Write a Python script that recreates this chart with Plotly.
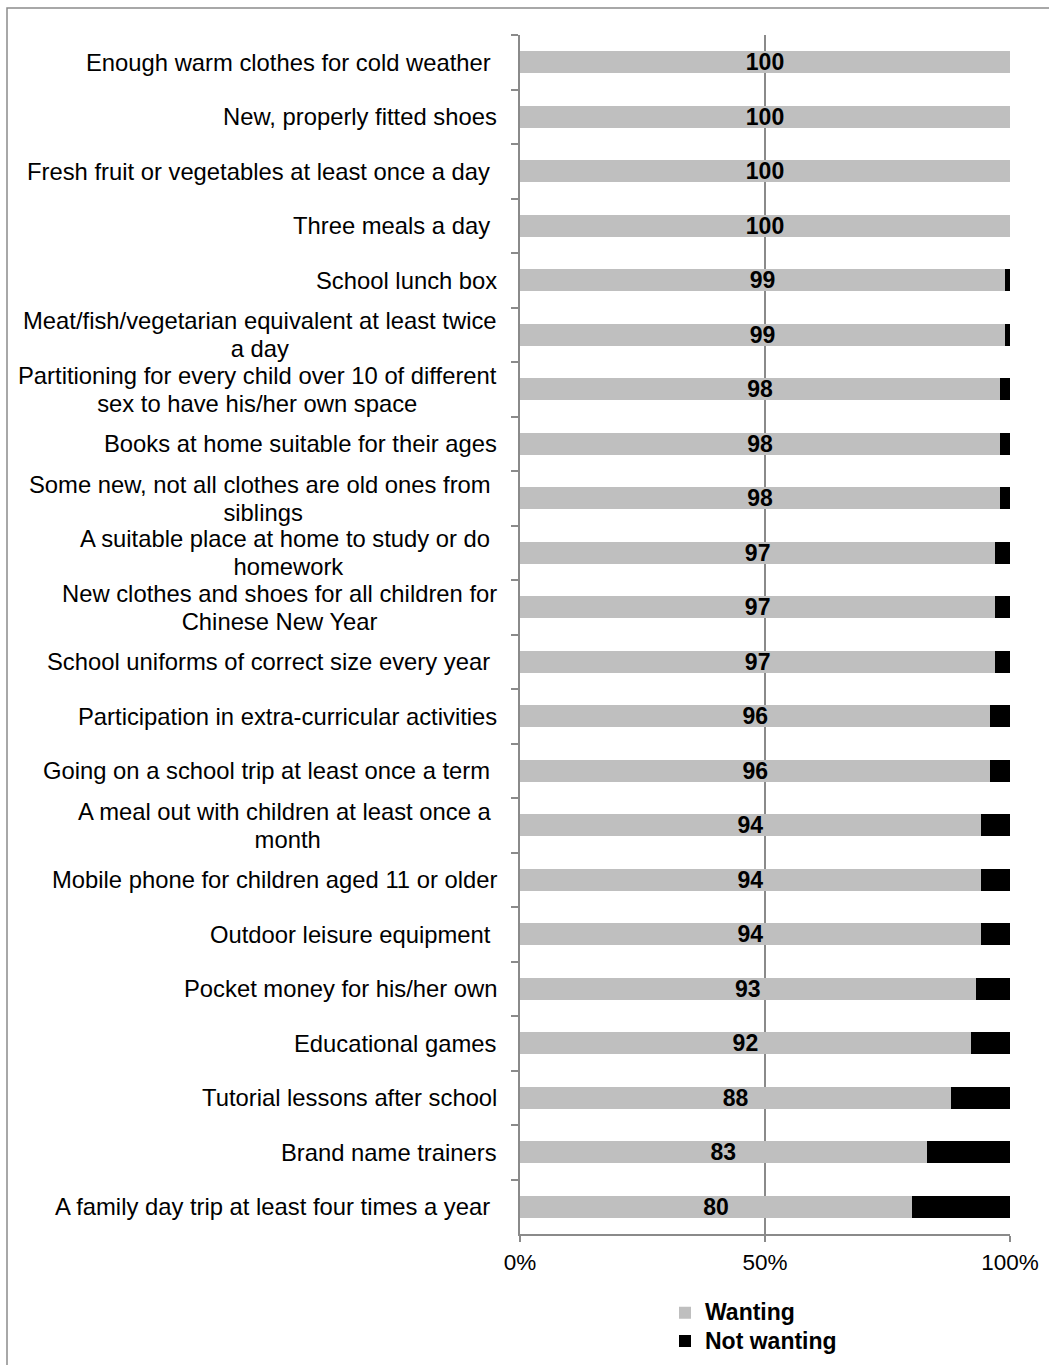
import plotly.graph_objects as go

# Items children should have, with the share of respondents wanting / not wanting each
items = [
    "Enough warm clothes for cold weather\u00a0",
    "New, properly fitted shoes",
    "Fresh fruit or vegetables at least once a day\u00a0",
    "Three meals a day\u00a0",
    "School lunch box",
    "Meat/fish/vegetarian equivalent at least twice<br>a day",
    "Partitioning for every child over 10 of different<br>sex to have his/her own space",
    "Books at home suitable for their ages",
    "Some new, not all clothes are old ones from\u00a0<br>siblings",
    "A suitable place at home to study or do\u00a0<br>homework",
    "New clothes and shoes for all children for<br>Chinese New Year",
    "School uniforms of correct size every year\u00a0",
    "Participation in extra-curricular activities",
    "Going on a school trip at least once a term\u00a0",
    "A meal out with children at least once a\u00a0<br>month",
    "Mobile phone for children aged 11 or older",
    "Outdoor leisure equipment\u00a0",
    "Pocket money for his/her own",
    "Educational games",
    "Tutorial lessons after school",
    "Brand name trainers",
    "A family day trip at least four times a year\u00a0",
]
wanting = [100, 100, 100, 100, 99, 99, 98, 98, 98, 97, 97, 97, 96, 96, 94, 94, 94, 93, 92, 88, 83, 80]
not_wanting = [0, 0, 0, 0, 1, 1, 2, 2, 2, 3, 3, 3, 4, 4, 6, 6, 6, 7, 8, 12, 17, 20]
x_ticks = [0, 50, 100]
x_tick_labels = ["0%", "50%", "100%"]
series_names = ["Wanting", "Not wanting"]

FONT = "Liberation Sans, Arial, sans-serif"
GRID = "#8a8a8a"
cats = [f"c{i}" for i in range(len(items))]


def sized(text, px):
    """Wrap every line in a span so glyphs are larger than the line pitch."""
    return "<br>".join(
        f'<span style="font-size:{px}px">{line}</span>' for line in text.split("<br>")
    )


fig = go.Figure()
fig.add_trace(go.Bar(
    name=sized(series_names[0], 23), y=cats, x=wanting, orientation="h",
    marker=dict(color="#bfbfbf", line=dict(width=0)),
    text=[str(v) for v in wanting], textposition="inside",
    insidetextanchor="middle", constraintext="none", textangle=0,
    textfont=dict(family=FONT, size=23, color="black", weight="bold"),
))
fig.add_trace(go.Bar(
    name=sized(series_names[1], 23), y=cats, x=not_wanting, orientation="h",
    marker=dict(color="black", line=dict(width=0)),
    textposition="none",
))

# Category labels, each line centred within its block and right-aligned to the axis
for c, label in zip(cats, items):
    fig.add_annotation(
        x=0, xref="paper", y=c, yref="y", text=sized(label, 23.8), showarrow=False,
        xanchor="right", yanchor="middle", align="center", xshift=-21,
        font=dict(family=FONT, size=21.5, color="black"),
    )

# Outer chart frame
fig.add_shape(
    type="rect", xref="paper", yref="paper",
    x0=(7 - 520) / 490, x1=1.2, y0=-0.3, y1=1 + (35 - 8) / 1199,
    line=dict(color="#8c8c8c", width=1.5), fillcolor="rgba(0,0,0,0)", layer="below",
)

fig.update_layout(
    width=1049, height=1365,
    margin=dict(l=520, r=39, t=35, b=131, autoexpand=False),
    barmode="stack", bargap=0.6,
    paper_bgcolor="white", plot_bgcolor="white",
    font=dict(family=FONT, color="black"),
    showlegend=True,
    legend=dict(
        x=(665 - 520) / 490, xanchor="left", y=(1234 - 1293.5) / 1199, yanchor="top",
        orientation="v", traceorder="normal",
        font=dict(family=FONT, size=19.5, color="black", weight="bold"),
        bgcolor="rgba(0,0,0,0)", itemwidth=30,
    ),
    xaxis=dict(
        range=[0, 100], tickvals=x_ticks, ticktext=x_tick_labels,
        showgrid=True, gridcolor=GRID, gridwidth=1.5, zeroline=False,
        showline=True, linecolor=GRID, linewidth=1.5,
        ticks="outside", ticklen=6, tickcolor=GRID, tickwidth=1.5,
        ticklabelstandoff=1,
        tickfont=dict(family=FONT, size=22.5, color="black"),
        fixedrange=True,
    ),
    yaxis=dict(
        type="category", autorange="reversed", showticklabels=False,
        showgrid=False, zeroline=False,
        showline=True, linecolor=GRID, linewidth=1.5,
        ticks="outside", tickson="boundaries", ticklen=7, tickcolor=GRID, tickwidth=1.5,
        fixedrange=True,
    ),
)

fig.write_html("out.html")
